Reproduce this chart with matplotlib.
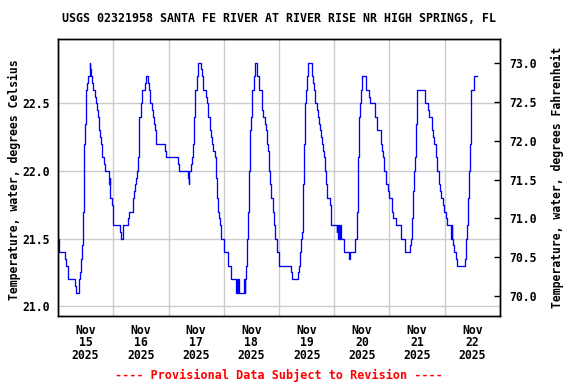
import numpy as np
import matplotlib
matplotlib.use("Agg")
import matplotlib.pyplot as plt

# Water temperature, deg C as (hour of day, value) change points
nov15 = [(0.0, 21.5), (0.6, 21.4), (2.9, 21.35), (3.4, 21.3), (4.5, 21.2), (7.5, 21.15), (7.8, 21.1),
         (9.1, 21.2), (9.5, 21.25), (10.1, 21.35), (10.5, 21.45), (11.0, 21.7), (11.4, 22.2), (11.7, 22.35),
         (12.1, 22.6), (12.7, 22.65), (13.0, 22.7), (13.8, 22.8), (14.1, 22.75), (14.3, 22.7), (14.8, 22.65),
         (15.4, 22.6), (16.0, 22.55), (16.4, 22.5), (16.8, 22.45), (17.3, 22.4), (17.7, 22.3), (18.1, 22.25),
         (18.6, 22.2), (19.0, 22.1), (19.9, 22.05), (20.5, 22.0), (22.2, 21.9), (22.4, 21.95), (22.6, 21.8),
         (23.4, 21.75), (23.8, 21.65)]
nov16 = [(0.0, 21.6), (2.9, 21.55), (3.3, 21.5), (4.1, 21.6), (6.6, 21.65), (7.0, 21.7), (8.5, 21.8),
         (8.9, 21.85), (9.4, 21.9), (9.8, 21.95), (10.2, 22.0), (10.7, 22.1), (11.1, 22.35), (11.4, 22.4),
         (12.2, 22.5), (12.4, 22.6), (13.6, 22.65), (14.1, 22.7), (14.9, 22.65), (15.5, 22.6), (15.9, 22.5),
         (16.7, 22.45), (17.1, 22.4), (17.6, 22.35), (18.1, 22.3), (18.7, 22.2), (22.4, 22.15), (22.8, 22.1)]
nov17 = [(0.0, 22.1), (4.1, 22.05), (4.7, 22.0), (8.5, 21.95), (8.8, 21.9), (9.1, 22.0), (9.9, 22.05),
         (10.2, 22.1), (10.5, 22.2), (11.1, 22.4), (11.7, 22.6), (12.2, 22.7), (13.0, 22.8), (14.2, 22.75),
         (14.6, 22.7), (15.2, 22.6), (16.2, 22.55), (16.7, 22.5), (17.1, 22.4), (18.0, 22.3), (18.4, 22.25),
         (18.9, 22.2), (19.3, 22.15), (20.2, 22.1), (20.6, 21.95), (21.1, 21.8), (21.5, 21.7), (21.9, 21.65),
         (22.4, 21.6), (22.9, 21.5)]
nov18 = [(0.0, 21.5), (0.1, 21.4), (1.8, 21.3), (3.1, 21.2), (5.3, 21.1), (5.6, 21.2), (5.9, 21.1),
         (6.4, 21.2), (6.7, 21.1), (8.9, 21.2), (9.2, 21.1), (9.4, 21.2), (9.8, 21.3), (10.1, 21.5),
         (10.7, 21.7), (11.1, 22.0), (11.4, 22.3), (11.8, 22.4), (12.4, 22.6), (13.0, 22.7), (13.4, 22.75),
         (13.7, 22.8), (14.3, 22.75), (14.6, 22.7), (15.2, 22.6), (16.4, 22.5), (16.8, 22.45), (17.2, 22.4),
         (17.8, 22.35), (18.3, 22.3), (18.7, 22.2), (19.2, 22.15), (19.8, 22.0), (20.2, 21.9), (20.7, 21.8),
         (21.2, 21.7), (21.7, 21.6), (22.1, 21.5), (23.1, 21.4)]
nov19 = [(0.0, 21.3), (5.2, 21.25), (5.7, 21.2), (8.3, 21.25), (8.7, 21.3), (9.2, 21.4), (9.6, 21.5),
         (10.0, 21.55), (10.5, 21.9), (10.9, 22.2), (11.3, 22.5), (11.8, 22.6), (12.2, 22.7), (12.7, 22.8),
         (14.4, 22.7), (14.8, 22.65), (15.4, 22.6), (15.8, 22.5), (16.6, 22.45), (17.0, 22.4), (17.5, 22.35),
         (17.9, 22.3), (18.3, 22.25), (18.8, 22.2), (19.2, 22.15), (19.6, 22.1), (20.1, 22.0), (20.5, 21.9),
         (21.0, 21.8), (22.0, 21.75), (22.4, 21.7), (22.8, 21.6)]
nov20 = [(0.0, 21.6), (1.2, 21.55), (1.4, 21.6), (1.6, 21.5), (1.9, 21.6), (2.2, 21.5), (2.5, 21.6),
         (3.1, 21.5), (4.1, 21.4), (6.6, 21.35), (7.0, 21.4), (9.2, 21.5), (9.8, 21.7), (10.2, 22.1),
         (10.6, 22.4), (11.2, 22.5), (11.6, 22.6), (12.2, 22.7), (13.8, 22.6), (14.9, 22.55), (15.6, 22.5),
         (17.5, 22.4), (18.6, 22.3), (20.3, 22.2), (20.8, 22.15), (21.1, 22.1), (21.4, 22.05), (21.7, 22.0),
         (22.4, 21.9), (23.2, 21.85), (23.6, 21.8)]
nov21 = [(0.0, 21.8), (0.9, 21.7), (1.7, 21.65), (2.9, 21.6), (4.9, 21.55), (5.2, 21.5), (6.7, 21.4),
         (8.7, 21.45), (9.2, 21.5), (9.6, 21.65), (10.0, 21.85), (10.5, 22.0), (10.9, 22.1), (11.3, 22.35),
         (11.8, 22.55), (12.1, 22.6), (15.4, 22.5), (16.6, 22.45), (17.2, 22.4), (18.3, 22.3), (18.8, 22.25),
         (19.2, 22.2), (20.2, 22.1), (20.7, 22.0), (21.5, 21.9), (21.9, 21.85), (22.4, 21.8), (23.1, 21.75),
         (23.6, 21.7)]
nov22 = [(0.0, 21.7), (0.4, 21.65), (0.9, 21.6), (2.5, 21.55), (2.7, 21.6), (2.9, 21.5), (3.1, 21.6),
         (3.3, 21.5), (3.6, 21.45), (4.1, 21.4), (5.1, 21.35), (5.5, 21.3), (8.9, 21.35), (9.2, 21.5),
         (9.5, 21.6), (10.2, 21.8), (10.6, 22.0), (10.9, 22.2), (11.3, 22.6), (12.7, 22.7), (14.1, 22.7)]

days = [nov15, nov16, nov17, nov18, nov19, nov20, nov21, nov22]
day_labels = ["Nov\n15\n2025", "Nov\n16\n2025", "Nov\n17\n2025", "Nov\n18\n2025",
              "Nov\n19\n2025", "Nov\n20\n2025", "Nov\n21\n2025", "Nov\n22\n2025"]
c_ticks = [21.0, 21.5, 22.0, 22.5]
f_ticks = [70.0, 70.5, 71.0, 71.5, 72.0, 72.5, 73.0]

plt.rcParams["font.family"] = ["DejaVu Sans Mono"]
plt.rcParams["font.weight"] = "bold"
FS = 8.3

hours = []
temps = []
for i, d in enumerate(days):
    for h, v in d:
        hours.append(24 * i + h)
        temps.append(v)

fig = plt.figure(figsize=(5.76, 3.84), dpi=100)
ax = fig.add_axes([58 / 576, 68 / 384, 442 / 576, 277 / 384])

ax.plot(hours, temps, drawstyle="steps-post", color="#0000ff", lw=0.95, zorder=3)

ax.set_xlim(0, 192)
ax.set_ylim(20.928, 22.975)
ax.set_xticks([12 + 24 * i for i in range(8)])
ax.set_xticklabels(day_labels, fontsize=FS, fontweight="bold", linespacing=0.95)
ax.set_xticks([24 * i for i in range(9)], minor=True)
ax.tick_params(axis="x", which="both", length=0, pad=5.5)
ax.set_yticks(c_ticks)
ax.set_yticklabels(["%.1f" % t for t in c_ticks], fontsize=FS, fontweight="bold")
ax.tick_params(axis="y", length=0, pad=6)
ax.grid(True, axis="y", color="#cccccc", lw=1.0)
ax.grid(True, axis="x", which="minor", color="#cccccc", lw=1.0)
ax.set_axisbelow(True)
for s in ax.spines.values():
    s.set_linewidth(1.0)
    s.set_color("black")

ax2 = ax.twinx()
ax2.set_ylim(69.738, 73.314)
ax2.set_yticks(f_ticks)
ax2.set_yticklabels(["%.1f" % t for t in f_ticks], fontsize=FS, fontweight="bold")
ax2.tick_params(axis="y", direction="in", length=4, width=1.0, pad=7)
for s in ax2.spines.values():
    s.set_linewidth(1.0)

fig.text(279 / 576, 1 - 19 / 384, "USGS 02321958 SANTA FE RIVER AT RIVER RISE NR HIGH SPRINGS, FL",
         ha="center", va="center", fontsize=8.4, fontweight="bold")
fig.text(14 / 576, 1 - 180 / 384, "Temperature, water, degrees Celsius", rotation=90,
         ha="center", va="center", fontsize=FS, fontweight="bold")
fig.text(557 / 576, 1 - 177 / 384, "Temperature, water, degrees Fahrenheit", rotation=90,
         ha="center", va="center", fontsize=FS, fontweight="bold")
fig.text(279 / 576, 1 - 375 / 384, "---- Provisional Data Subject to Revision ----",
         ha="center", va="center", fontsize=8.5, fontweight="bold", color="#ff0000")

fig.savefig("out.png", dpi=100)
